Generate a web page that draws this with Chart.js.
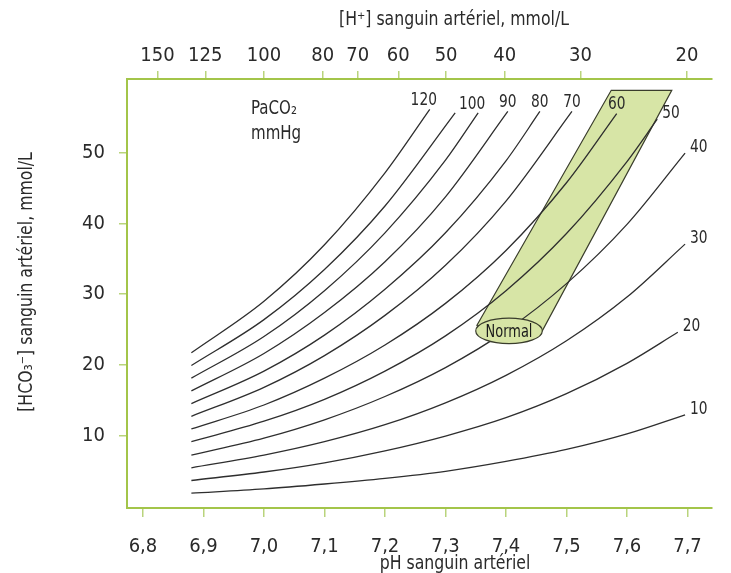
<!DOCTYPE html>
<html>
<head>
<meta charset="utf-8">
<script src="https://cdn.jsdelivr.net/npm/chart.js@4.4.1/dist/chart.umd.min.js"></script>
<style>
  body { margin: 0; background: #fff; }
  #wrap { width: 731px; height: 573px; }
</style>
</head>
<body>
<div id="wrap"><canvas id="davenport" width="731" height="573"></canvas></div>
<script>
// PaCO2 isopleths (mmHg): pH -> [HCO3-] mmol/L
var co2Levels = [10, 20, 30, 40, 50, 60, 70, 80, 90, 100, 110, 120];
var curveLabels = ["10", "20", "30", "40", "50", "60", "70", "80", "90", "100", "", "120"];

var pH10 = [6.88, 7.0, 7.1, 7.2, 7.3, 7.4, 7.5, 7.6, 7.696];
var hco3_10 = [1.8, 2.4, 3.1, 3.9, 4.9, 6.3, 8.0, 10.2, 12.9];
var pH20 = [6.88, 7.0, 7.1, 7.2, 7.3, 7.4, 7.5, 7.6, 7.684];
var hco3_20 = [3.6, 4.8, 6.1, 7.8, 9.9, 12.5, 15.9, 20.2, 24.6];
var pH30 = [6.88, 7.0, 7.1, 7.2, 7.3, 7.4, 7.5, 7.6, 7.696];
var hco3_30 = [5.4, 7.2, 9.1, 11.5, 14.6, 18.5, 23.4, 29.6, 37.1];
var pH40 = [6.88, 7.0, 7.1, 7.2, 7.3, 7.4, 7.5, 7.6, 7.696];
var hco3_40 = [7.2, 9.6, 12.2, 15.5, 19.6, 24.8, 31.5, 39.9, 50.0];
var pH50 = [6.88, 7.0, 7.1, 7.2, 7.3, 7.4, 7.5, 7.6, 7.65];
var hco3_50 = [9.1, 12.0, 15.1, 19.1, 24.1, 30.5, 38.6, 48.8, 54.8];
var pH60 = [6.88, 7.0, 7.1, 7.2, 7.3, 7.4, 7.5, 7.583];
var hco3_60 = [10.9, 14.3, 18.1, 22.8, 28.7, 36.2, 45.8, 55.6];
var pH70 = [6.88, 7.0, 7.1, 7.2, 7.3, 7.4, 7.509];
var hco3_70 = [12.7, 16.8, 21.3, 27.0, 34.1, 43.2, 55.9];
var pH80 = [6.88, 7.0, 7.1, 7.2, 7.3, 7.4, 7.456];
var hco3_80 = [14.5, 19.1, 24.2, 30.7, 38.7, 48.9, 55.9];
var pH90 = [6.88, 7.0, 7.1, 7.2, 7.3, 7.403];
var hco3_90 = [16.3, 21.6, 27.4, 34.6, 43.8, 55.9];
var pH100 = [6.88, 7.0, 7.1, 7.2, 7.3, 7.354];
var hco3_100 = [18.1, 24.0, 30.5, 38.7, 49.0, 55.7];
var pH110 = [6.88, 7.0, 7.1, 7.2, 7.316];
var hco3_110 = [19.9, 26.4, 33.5, 42.5, 55.7];
var pH120 = [6.88, 7.0, 7.1, 7.2, 7.274];
var hco3_120 = [21.7, 29.0, 37.0, 47.2, 56.2];

// normal band (pH, HCO3) and the "Normal" ellipse
var normalBandPH = [7.352, 7.574, 7.674, 7.46];
var normalBandHCO3 = [25.6, 58.9, 58.9, 24.8];
var normalCenter = [7.405, 24.8];
var normalRadius = [0.055, 1.8];

// axis ticks
var pHTicks = [6.8, 6.9, 7.0, 7.1, 7.2, 7.3, 7.4, 7.5, 7.6, 7.7];
var hco3Ticks = [10, 20, 30, 40, 50];
var hPlusLabels = ["150", "125", "100", "80", "70", "60", "50", "40", "30", "20"];
var hPlusPH = [6.824, 6.903, 7.0, 7.097, 7.155, 7.222, 7.301, 7.398, 7.523, 7.699];

var curvePH = [pH10, pH20, pH30, pH40, pH50, pH60, pH70, pH80, pH90, pH100, pH110, pH120];
var curveHCO3 = [hco3_10, hco3_20, hco3_30, hco3_40, hco3_50, hco3_60, hco3_70, hco3_80, hco3_90, hco3_100, hco3_110, hco3_120];

var FONT = "'Liberation Sans Narrow', 'DejaVu Sans Condensed', 'Liberation Sans', sans-serif";
var GREEN = "#a3c54a";
var TEXT = "#2a2a2a";

Chart.defaults.font.family = FONT;
Chart.defaults.color = TEXT;

function toPoints(xs, ys) {
  return xs.map(function (x, i) { return { x: x, y: ys[i] }; });
}

var datasets = co2Levels.map(function (p, i) {
  return {
    label: "PaCO2 " + p,
    data: toPoints(curvePH[i], curveHCO3[i]),
    showLine: true,
    borderColor: "#2e2e2e",
    borderWidth: 1.3,
    pointRadius: 0,
    cubicInterpolationMode: "monotone",
    fill: false
  };
});

function setTicks(values) {
  return function (scale) {
    scale.ticks = values.map(function (v) { return { value: v }; });
  };
}

// narrow text, squeezed a little to look like the condensed face of the original
function narrowText(ctx, txt, x, y, align, sx) {
  ctx.save();
  ctx.translate(x, y);
  ctx.scale(sx, 1);
  ctx.textAlign = align;
  ctx.fillText(txt, 0, 0);
  ctx.restore();
}

var overlay = {
  id: "overlay",
  beforeDatasetsDraw: function (chart) {
    var ctx = chart.ctx, xs = chart.scales.x, ys = chart.scales.y;
    ctx.save();
    ctx.beginPath();
    normalBandPH.forEach(function (v, i) {
      var px = xs.getPixelForValue(v), py = ys.getPixelForValue(normalBandHCO3[i]);
      if (i === 0) ctx.moveTo(px, py); else ctx.lineTo(px, py);
    });
    ctx.closePath();
    ctx.fillStyle = "#d7e5a6";
    ctx.fill();
    ctx.strokeStyle = "#3a3d2c";
    ctx.lineWidth = 1.2;
    ctx.stroke();
    ctx.restore();
  },
  afterDatasetsDraw: function (chart) {
    var ctx = chart.ctx, xs = chart.scales.x, ys = chart.scales.y;
    ctx.save();

    // Normal ellipse
    var cx = xs.getPixelForValue(normalCenter[0]);
    var cy = ys.getPixelForValue(normalCenter[1]);
    var rx = xs.getPixelForValue(normalCenter[0] + normalRadius[0]) - cx;
    var ry = cy - ys.getPixelForValue(normalCenter[1] + normalRadius[1]);
    ctx.beginPath();
    ctx.ellipse(cx, cy, rx, ry, 0, 0, Math.PI * 2);
    ctx.fillStyle = "#d7e5a6";
    ctx.fill();
    ctx.strokeStyle = "#3a3d2c";
    ctx.lineWidth = 1.2;
    ctx.stroke();
    ctx.fillStyle = "#1a1a1a";
    ctx.font = "18px " + FONT;
    ctx.textBaseline = "middle";
    narrowText(ctx, "Normal", cx, cy + 1, "center", 0.8);

    // isopleth labels at the end of each curve
    ctx.font = "18px " + FONT;
    ctx.fillStyle = TEXT;
    chart.data.datasets.forEach(function (ds, i) {
      var txt = curveLabels[i];
      if (!txt) return;
      var pts = chart.getDatasetMeta(i).data;
      var last = pts[pts.length - 1];
      var endPH = ds.data[ds.data.length - 1].x;
      if (endPH >= 7.6) {
        narrowText(ctx, txt, last.x + 5, last.y - 6, "left", 0.85);
      } else {
        narrowText(ctx, txt, last.x - (txt.length - 2) * 6, last.y - 9, "center", 0.85);
      }
    });

    // PaCO2 mmHg
    ctx.textBaseline = "alphabetic";
    ctx.font = "19px " + FONT;
    narrowText(ctx, "PaCO\u2082", 251, 114, "left", 0.88);
    narrowText(ctx, "mmHg", 251, 139, "left", 0.88);

    // axis titles
    ctx.font = "19px " + FONT;
    ctx.textBaseline = "middle";
    narrowText(ctx, "[H\u207A] sanguin art\u00e9riel, mmol/L", 454, 20, "center", 0.92);
    narrowText(ctx, "pH sanguin art\u00e9riel", 455, 564, "center", 0.92);
    ctx.translate(27, 282);
    ctx.rotate(-Math.PI / 2);
    narrowText(ctx, "[HCO\u2083\u207B] sanguin art\u00e9riel, mmol/L", 0, 0, "center", 0.92);
    ctx.restore();
  }
};

var axisGrid = function (len) {
  return { drawOnChartArea: false, drawTicks: true, tickLength: len, color: "#b9d47c", lineWidth: 1.5 };
};
var axisBorder = { display: true, color: GREEN, width: 2 };

new Chart(document.getElementById("davenport"), {
  type: "scatter",
  data: { datasets: datasets },
  plugins: [overlay],
  options: {
    responsive: false,
    animation: false,
    devicePixelRatio: 1,
    layout: { padding: { left: 0, right: 19, top: 0, bottom: 0 } },
    plugins: { legend: { display: false }, tooltip: { enabled: false } },
    scales: {
      x: {
        type: "linear",
        position: "bottom",
        min: 6.7736,
        max: 7.7405,
        afterBuildTicks: setTicks(pHTicks),
        afterFit: function (scale) { scale.height = 65; },
        grid: axisGrid(9),
        border: axisBorder,
        ticks: {
          padding: 18,
          font: { size: 20 },
          color: TEXT,
          maxRotation: 0,
          callback: function (v) { return v.toFixed(1).replace(".", ","); }
        }
      },
      x2: {
        type: "linear",
        position: "top",
        min: 6.7736,
        max: 7.7405,
        afterBuildTicks: setTicks(hPlusPH),
        afterFit: function (scale) { scale.height = 79; },
        grid: axisGrid(8),
        border: axisBorder,
        ticks: {
          padding: 3,
          font: { size: 20 },
          color: TEXT,
          maxRotation: 0,
          callback: function (v, i) { return hPlusLabels[i]; }
        }
      },
      y: {
        type: "linear",
        min: -0.3,
        max: 60.5,
        afterBuildTicks: setTicks(hco3Ticks),
        afterFit: function (scale) { scale.width = 127; },
        grid: axisGrid(8),
        border: axisBorder,
        ticks: { padding: 14, font: { size: 20 }, color: TEXT }
      }
    }
  }
});
</script>
</body>
</html>
